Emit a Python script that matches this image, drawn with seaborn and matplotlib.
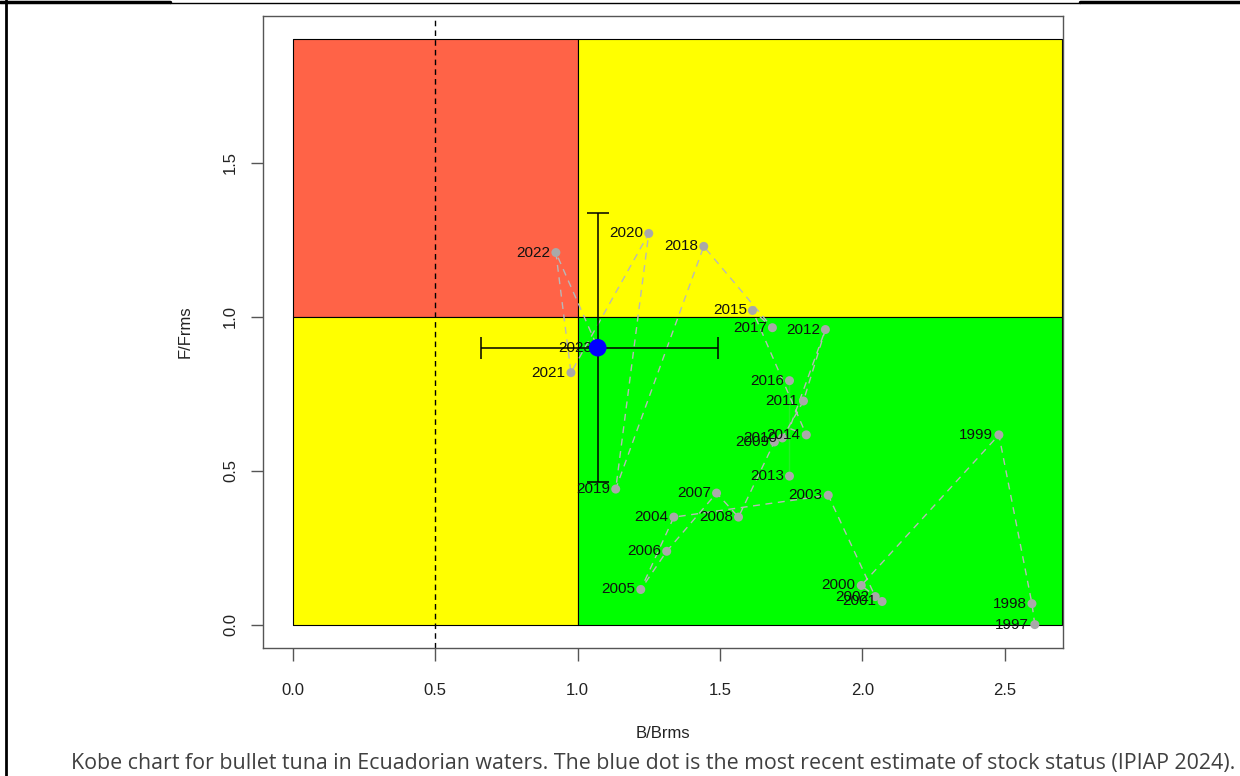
import numpy as np
import pandas as pd
import seaborn as sns
import matplotlib
matplotlib.use('Agg')
from matplotlib import pyplot as plt
from matplotlib.lines import Line2D

# values
years = list(range(1997, 2024))
b_brms = [2.605, 2.595, 2.479, 1.996, 2.069, 2.045, 1.880, 1.338, 1.222, 1.313,
          1.488, 1.565, 1.691, 1.719, 1.793, 1.870, 1.744, 1.803, 1.614, 1.744,
          1.684, 1.443, 1.134, 1.250, 0.977, 0.924, 1.071]
f_frms = [0.000, 0.068, 0.616, 0.127, 0.075, 0.091, 0.420, 0.349, 0.114, 0.238,
          0.427, 0.349, 0.593, 0.606, 0.726, 0.958, 0.482, 0.616, 1.020, 0.792,
          0.964, 1.228, 0.440, 1.270, 0.818, 1.208, 0.899]
# last year estimate with its intervals
b_last, f_last = 1.071, 0.899
b_ci = [0.662, 1.492]
f_ci = [0.463, 1.336]

caption = ("Kobe chart for bullet tuna in Ecuadorian waters. The blue dot is the most "
           "recent estimate of stock status (IPIAP 2024).")

df = pd.DataFrame({'year': years, 'B': b_brms, 'F': f_frms})

sns.set_style('white')
plt.rcParams['font.family'] = ['Liberation Sans', 'DejaVu Sans']

fig = plt.figure(figsize=(12.4, 7.76), dpi=100)
ax = fig.add_axes([263/1240, 1-648/776, 800/1240, 632/776])

xmax, ymax = 2.70, 1.90
ax.set_xlim(-0.104, 2.704)
ax.set_ylim(-0.076, 1.976)

# quadrants
ax.fill_between([0, 1], 1, ymax, color='#FF6347', lw=0.8, ec='black', zorder=0)
ax.fill_between([1, xmax], 1, ymax, color='#FFFF00', lw=0.8, ec='black', zorder=0)
ax.fill_between([0, 1], 0, 1, color='#FFFF00', lw=0.8, ec='black', zorder=0)
ax.fill_between([1, xmax], 0, 1, color='#00FF00', lw=0.8, ec='black', zorder=0)
ax.axvline(0.5, color='black', ls='--', lw=1, dashes=(4, 3), zorder=1)

sns.lineplot(data=df, x='B', y='F', sort=False, ax=ax, color='#B8B8B8',
             lw=1, dashes=False, zorder=2)
ax.lines[-1].set_dashes((5, 4))
sns.scatterplot(data=df, x='B', y='F', ax=ax, color='#A9A9A9', s=42,
                edgecolor='none', zorder=3)
for yr, xb, yf in zip(years, b_brms, f_frms):
    ax.annotate(str(yr), (xb, yf), xytext=(-4, 0), textcoords='offset points',
                ha='right', va='center', fontsize=11, color='#111111', zorder=4)

ax.errorbar([b_last], [f_last], xerr=[[b_last-b_ci[0]], [b_ci[1]-b_last]],
            yerr=[[f_last-f_ci[0]], [f_ci[1]-f_last]], fmt='none',
            ecolor='black', elinewidth=1.1, capsize=8, capthick=1.1, zorder=5)
ax.scatter([b_last], [f_last], s=160, color='#0000FF', edgecolor='none', zorder=6)

ax.set_xticks([0, 0.5, 1.0, 1.5, 2.0, 2.5])
ax.set_yticks([0, 0.5, 1.0, 1.5])
ax.set_xticklabels(['0.0', '0.5', '1.0', '1.5', '2.0', '2.5'])
ax.set_yticklabels(['0.0', '0.5', '1.0', '1.5'], rotation=90, va='center')
ax.tick_params(axis='both', direction='out', length=9, width=1, color='#555555',
               labelsize=12, labelcolor='#222222', bottom=True, left=True)
ax.tick_params(axis='x', pad=16)
ax.tick_params(axis='y', pad=9)
for s in ax.spines.values():
    s.set_color('#555555')
    s.set_linewidth(1)
ax.set_xlabel('B/Brms', fontsize=12, color='#222222', labelpad=20)
ax.set_ylabel('F/Frms', fontsize=12, color='#222222', labelpad=22)

fig.text(653/1240, 1-763/776, caption, ha='center', va='center', fontsize=15.4,
         family=['Open Sans', 'DejaVu Sans'], color='#404040')

# page frame
fig.add_artist(Line2D([6/1240, 6/1240], [0, 1], transform=fig.transFigure,
                      color='black', lw=2))
fig.add_artist(Line2D([0, 170/1240], [1-2/776, 1-2/776], transform=fig.transFigure,
                      color='black', lw=2.5))
fig.add_artist(Line2D([1080/1240, 1], [1-2/776, 1-2/776], transform=fig.transFigure,
                      color='black', lw=2.5))
fig.add_artist(Line2D([170/1240, 1080/1240], [1-3/776, 1-3/776],
                      transform=fig.transFigure, color='black', lw=1))

fig.savefig('out.png', dpi=100)
